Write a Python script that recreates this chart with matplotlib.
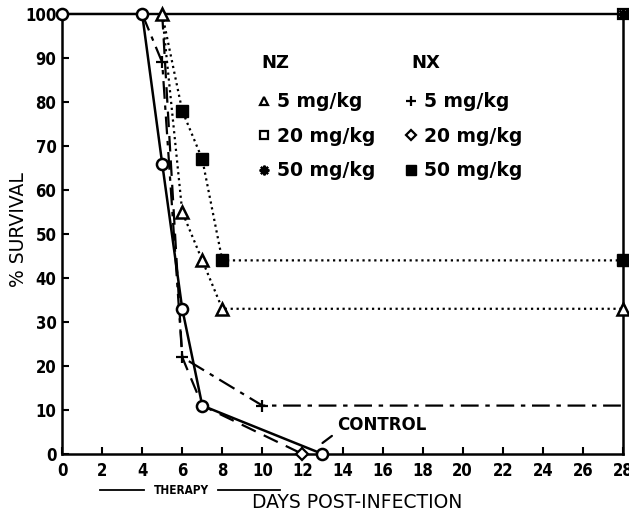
import matplotlib
matplotlib.use("Agg")
import matplotlib.pyplot as plt
from matplotlib.lines import Line2D
from matplotlib.transforms import blended_transform_factory

# survival data (day, % survival)
control_days = [0, 4, 5, 6, 7, 13]
control_surv = [100, 100, 66, 33, 11, 0]

nz5_days = [5, 6, 7, 8, 28]
nz5_surv = [100, 55, 44, 33, 33]

nz20_days = [4, 28]
nz20_surv = [100, 100]

nz50_days = [4, 28]
nz50_surv = [100, 100]

nx5_days = [4, 5, 6, 10, 28]
nx5_surv = [100, 89, 22, 11, 11]

nx20_days = [5, 6, 7, 12]
nx20_surv = [100, 22, 11, 0]

nx50_days = [5, 6, 7, 8, 28]
nx50_surv = [100, 78, 67, 44, 44]

xticks = list(range(0, 29, 2))
yticks = list(range(0, 101, 10))

tick_font = {'family': 'DejaVu Sans', 'stretch': 'condensed', 'weight': 'bold', 'size': 12}

fig = plt.figure(figsize=(6.29, 5.12), dpi=100)
ax = fig.add_axes([0.0986, 0.1133, 0.8919, 0.8594])

ax.plot(control_days, control_surv, '-', color='black', lw=1.8, marker='o', ms=8,
        mfc='white', mec='black', mew=1.8, clip_on=False, zorder=5)
ax.plot(nz5_days, nz5_surv, ':', color='black', lw=1.6, marker='^', ms=8,
        mfc='white', mec='black', mew=1.8, clip_on=False, zorder=6)
ax.plot(nz20_days, nz20_surv, '-', color='black', lw=1.6, marker='s', ms=7,
        mfc='white', mec='black', mew=1.6, markevery=[-1], clip_on=False, zorder=3)
ax.plot(nz50_days, nz50_surv, '-', color='black', lw=1.6, marker=(8, 2, 0), ms=8,
        mec='black', mew=1.8, markevery=[-1], clip_on=False, zorder=4)
ax.plot(nx5_days, nx5_surv, color='black', lw=1.6, dashes=(8, 3, 2, 3), marker='+', ms=9,
        mew=1.6, markevery=[1, 2, 3], clip_on=False, zorder=4)
ax.plot(nx20_days, nx20_surv, color='black', lw=1.6, dashes=(7, 4), marker='D', ms=6,
        mfc='white', mec='black', mew=1.6, markevery=[-1], clip_on=False, zorder=4)
ax.plot(nx50_days, nx50_surv, ':', color='black', lw=1.6, marker='s', ms=8,
        mfc='black', mec='black', markevery=[1, 2, 3, 4], clip_on=False, zorder=4)

ax.set_xlim(0, 28)
ax.set_ylim(0, 100)
ax.set_xticks(xticks)
ax.set_yticks(yticks)
ax.set_xticklabels([str(t) for t in xticks], fontdict=tick_font)
ax.set_yticklabels([str(t) for t in yticks], fontdict=tick_font)
ax.tick_params(direction='in', length=5, width=1.5)
ax.tick_params(axis='x', pad=6)
ax.tick_params(axis='y', pad=4)
ax.spines['top'].set_visible(False)
for s in ['left', 'right', 'bottom']:
    ax.spines[s].set_linewidth(1.8)

ax.set_xlabel('DAYS POST-INFECTION', fontsize=13.5)
ax.xaxis.set_label_coords(0.526, -0.089)
ax.set_ylabel('% SURVIVAL', fontsize=13.5)
ax.yaxis.set_label_coords(-0.061, 0.51)

# therapy bar under the axis
trans = blended_transform_factory(ax.transData, ax.transAxes)
ax.plot([1.9, 4.1], [-0.082, -0.082], color='black', lw=1.3, transform=trans, clip_on=False)
ax.plot([7.8, 10.9], [-0.082, -0.082], color='black', lw=1.3, transform=trans, clip_on=False)
ax.text(5.95, -0.082, 'THERAPY', transform=trans, ha='center', va='center',
        family='DejaVu Sans', stretch='condensed', weight='bold', fontsize=8.5)

ax.annotate('CONTROL', xy=(13.0, 2.5), xytext=(13.72, 6.6), ha='left', va='center',
            fontsize=12, weight='bold',
            arrowprops=dict(arrowstyle='-', lw=1.6, shrinkA=2, shrinkB=0, relpos=(0, 0.1)))

# legend: column headers plus marker rows
ax.text(0.355, 0.889, 'NZ', transform=ax.transAxes, fontsize=13, weight='bold',
        ha='left', va='center')
ax.text(0.622, 0.889, 'NX', transform=ax.transAxes, fontsize=13, weight='bold',
        ha='left', va='center')
handles = [Line2D([], [], ls='none', marker='^', ms=6, mfc='white', mec='black', mew=1.6),
           Line2D([], [], ls='none', marker='s', ms=6, mfc='white', mec='black', mew=1.6),
           Line2D([], [], ls='none', marker=(8, 2, 0), ms=7, mec='black', mew=1.6),
           Line2D([], [], ls='none', marker='+', ms=7, mec='black', mew=1.6),
           Line2D([], [], ls='none', marker='D', ms=5, mfc='white', mec='black', mew=1.6),
           Line2D([], [], ls='none', marker='s', ms=7, mfc='black', mec='black')]
labels = ['5 mg/kg', '20 mg/kg', '50 mg/kg', '5 mg/kg', '20 mg/kg', '50 mg/kg']
ax.legend(handles, labels, ncol=2, frameon=False, loc='upper left',
          bbox_to_anchor=(0.32, 0.856), handlelength=0.8, handletextpad=0.3,
          labelspacing=0.82, columnspacing=1.5, borderpad=0.3,
          prop={'size': 13.5, 'weight': 'bold'})

fig.savefig('out.png', dpi=100)
